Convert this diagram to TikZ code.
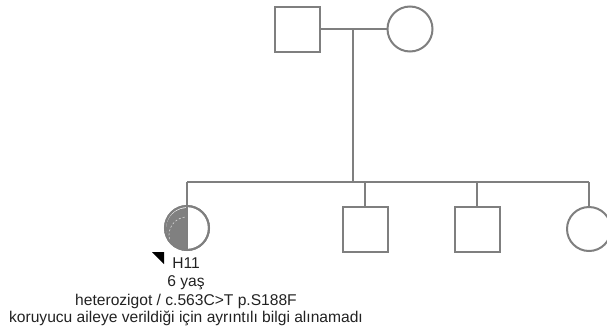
\documentclass[tikz,border=0pt]{standalone}
\usepackage{fontspec}
\setmainfont{Liberation Sans}
\begin{document}
\begin{tikzpicture}[x=1pt,y=-1pt,
  every node/.style={inner sep=0pt,outer sep=0pt},
  pline/.style={draw=lineg,line width=2pt},
  male/.style={draw=lineg,line width=2pt,fill=white,minimum size=45pt,shape=rectangle},
  female/.style={draw=lineg,line width=2pt,fill=white,minimum size=44pt,shape=circle},
  lbl/.style={font=\fontsize{15.6}{17}\selectfont,text=txtc,anchor=base}]
\definecolor{lineg}{HTML}{7F7F7F}
\definecolor{fillg}{HTML}{808080}
\definecolor{txtc}{HTML}{222222}
\useasboundingbox (0,0) rectangle (607,335);
% parents
\node[male] (f) at (297,29) {};
\node[female,minimum size=45pt] (m) at (410,29) {};
\coordinate (d) at (353,29);
\coordinate (s) at (353,182);
\draw[pline] (f.east) -- (m.west);
\draw[pline] (d) -- (s);
% sibship
\coordinate (sl) at (187,182);
\coordinate (sr) at (589,182);
\draw[pline] (sl) -- (sr);
% children
\node[female] (c1) at (187,228) {};
\fill[fillg] (c1.south) arc[start angle=270,end angle=90,radius=21pt] -- cycle;
\draw[white,line width=0.6pt,dash pattern=on 2pt off 2pt,opacity=0.7] ([yshift=-3pt]c1.south) arc[start angle=270,end angle=90,radius=18pt];
\draw[lineg,line width=1.5pt] (c1.north) -- (c1.south);
\node[female,fill=none] at (187,228) {};
\node[male] (c2) at (365,229) {};
\node[male] (c3) at (477,229) {};
\node[female] (c4) at (589,229) {};
\coordinate (t2) at (365,182);
\coordinate (t3) at (477,182);
\draw[pline] (sl) -- (c1.north);
\draw[pline] (t2) -- (c2.north);
\draw[pline] (t3) -- (c3.north);
\draw[pline] (sr) -- (c4.north);
% proband arrow
\fill[black] (152,252) -- (164,252) -- (164,264) -- cycle;
% labels
\node[lbl] (l1) at (186,268) {H11};
\node[lbl] (l2) at (186,286.5) {6 yaş};
\node[lbl] (l3) at (186,305) {heterozigot / c.563C>T p.S188F};
\node[lbl] (l4) at (186,322.5) {koruyucu aileye verildiği için ayrıntılı bilgi alınamadı};
\end{tikzpicture}
\end{document}
